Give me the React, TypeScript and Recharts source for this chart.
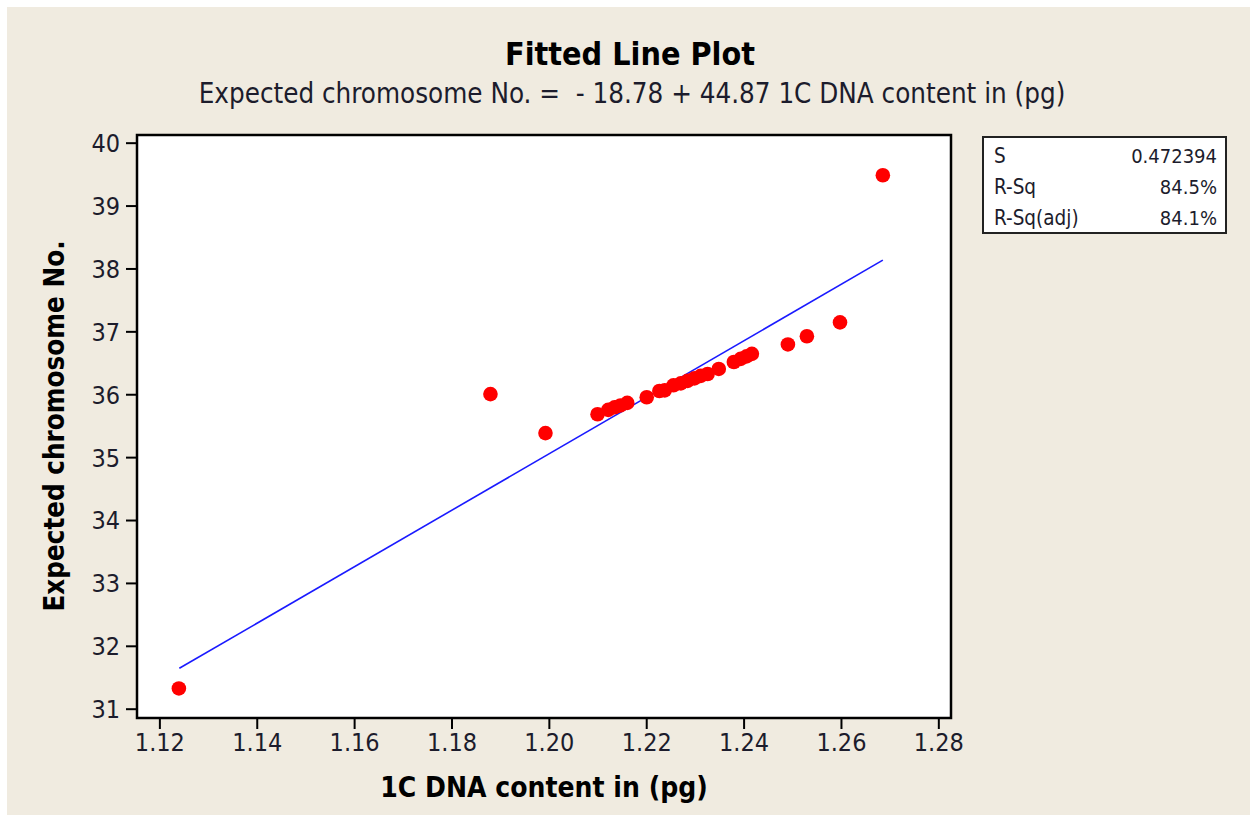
import React from 'react';
import { ScatterChart, Scatter, XAxis, YAxis, CartesianGrid, ReferenceArea } from 'recharts';

// 1C DNA content (pg)
const dnaContent = [
  1.1239, 1.1879, 1.1992, 1.2099, 1.2121, 1.2134, 1.2146, 1.2160, 1.2200, 1.2226,
  1.2237, 1.2255, 1.2270, 1.2284, 1.2298, 1.2311, 1.2325, 1.2348, 1.2379, 1.2393,
  1.2405, 1.2416, 1.2490, 1.2529, 1.2597, 1.2685,
];
// Expected chromosome No.
const chromosomeNo = [
  31.33, 36.01, 35.39, 35.69, 35.76, 35.80, 35.83, 35.87, 35.96, 36.06,
  36.07, 36.15, 36.18, 36.22, 36.26, 36.30, 36.33, 36.41, 36.52, 36.57,
  36.61, 36.65, 36.80, 36.93, 37.15, 39.49,
];
// Fitted line end points
const fitX = [1.124, 1.2685];
const fitY = [31.65, 38.14];

const xTicks = [1.12, 1.14, 1.16, 1.18, 1.2, 1.22, 1.24, 1.26, 1.28];
const yTicks = [31, 32, 33, 34, 35, 36, 37, 38, 39, 40];

const statLabels = ['S', 'R-Sq', 'R-Sq(adj)'];
const statValues = ['0.472394', '84.5%', '84.1%'];

const titleText = 'Fitted Line Plot';
const subtitleText = 'Expected chromosome No. =  - 18.78 + 44.87 1C DNA content in (pg)';
const xLabel = '1C DNA content in (pg)';
const yLabel = 'Expected chromosome No.';

const points = dnaContent.map((x, i) => ({ x, y: chromosomeNo[i] }));
const fitData = fitX.map((x, i) => ({ x, y: fitY[i] }));

const FONT = '"DejaVu Sans Condensed", "DejaVu Sans", sans-serif';
const TEXT = '#1c1c2c';
const XDOM: [number, number] = [1.1153, 1.2825];
const YDOM: [number, number] = [30.86, 40.13];

const Dot = (props: any) => <circle cx={props.cx} cy={props.cy} r={7.3} fill="#ff0000" />;
const NoDot = () => <g />;

export default function App() {
  return (
    <div
      style={{
        position: 'absolute',
        left: 0,
        top: 0,
        width: 1250,
        height: 815,
        background: '#f0ebe0',
        borderTop: '7px solid #ffffff',
        borderLeft: '7px solid #ffffff',
        boxSizing: 'border-box',
        overflow: 'hidden',
      }}
    >
      <div style={{ position: 'absolute', left: -7, top: -7 }}>
        <ScatterChart width={1250} height={815} margin={{ top: 135, right: 299, bottom: 57, left: 77 }}>
          <CartesianGrid fill="#ffffff" horizontal={false} vertical={false} stroke="none" />
          <XAxis
            type="number"
            dataKey="x"
            domain={XDOM}
            ticks={xTicks}
            interval={0}
            allowDataOverflow
            tickFormatter={(v: number) => v.toFixed(2)}
            height={40}
            tickSize={11}
            tickMargin={4}
            axisLine={false}
            tickLine={{ stroke: '#000', strokeWidth: 2 }}
            tick={{ fill: TEXT, fontSize: 25, fontFamily: FONT }}
          />
          <YAxis
            type="number"
            dataKey="y"
            domain={YDOM}
            ticks={yTicks}
            interval={0}
            allowDataOverflow
            width={60}
            tickSize={11}
            tickMargin={6}
            axisLine={false}
            tickLine={{ stroke: '#000', strokeWidth: 2 }}
            tick={{ fill: TEXT, fontSize: 25, fontFamily: FONT }}
          />
          <ReferenceArea
            x1={XDOM[0]}
            x2={XDOM[1]}
            y1={YDOM[0]}
            y2={YDOM[1]}
            fill="none"
            stroke="#000"
            strokeWidth={2.5}
            ifOverflow="visible"
          />
          <Scatter
            data={fitData}
            line={{ stroke: '#1a1aff', strokeWidth: 1.6 }}
            shape={NoDot}
            isAnimationActive={false}
          />
          <Scatter data={points} shape={Dot} fill="#ff0000" isAnimationActive={false} />
        </ScatterChart>
      </div>
      <svg
        width={1250}
        height={815}
        style={{ position: 'absolute', left: -7, top: -7, pointerEvents: 'none' }}
      >
        <text x={630} y={65} textAnchor="middle" fontFamily={FONT} fontWeight="bold" fontSize={32} fill="#000">
          {titleText}
        </text>
        <text x={632} y={103} textAnchor="middle" fontFamily={FONT} fontSize={27.5} fill={TEXT} style={{ whiteSpace: 'pre' }}>
          {subtitleText}
        </text>
        <text x={544} y={797} textAnchor="middle" fontFamily={FONT} fontWeight="bold" fontSize={28} fill="#000">
          {xLabel}
        </text>
        <text
          x={0}
          y={0}
          transform="translate(64 426) rotate(-90)"
          textAnchor="middle"
          fontFamily={FONT}
          fontWeight="bold"
          fontSize={27.5}
          fill="#000"
        >
          {yLabel}
        </text>
        <rect x={983} y={137} width={243} height={96} fill="#ffffff" stroke="#222" strokeWidth={2} />
        {statLabels.map((s, i) => (
          <g key={s}>
            <text x={994} y={163 + i * 31} fontFamily={FONT} fontSize={20.5} fill={TEXT}>
              {s}
            </text>
            <text x={1217} y={163 + i * 31} textAnchor="end" fontFamily={FONT} fontSize={20} fill={TEXT}>
              {statValues[i]}
            </text>
          </g>
        ))}
      </svg>
    </div>
  );
}
